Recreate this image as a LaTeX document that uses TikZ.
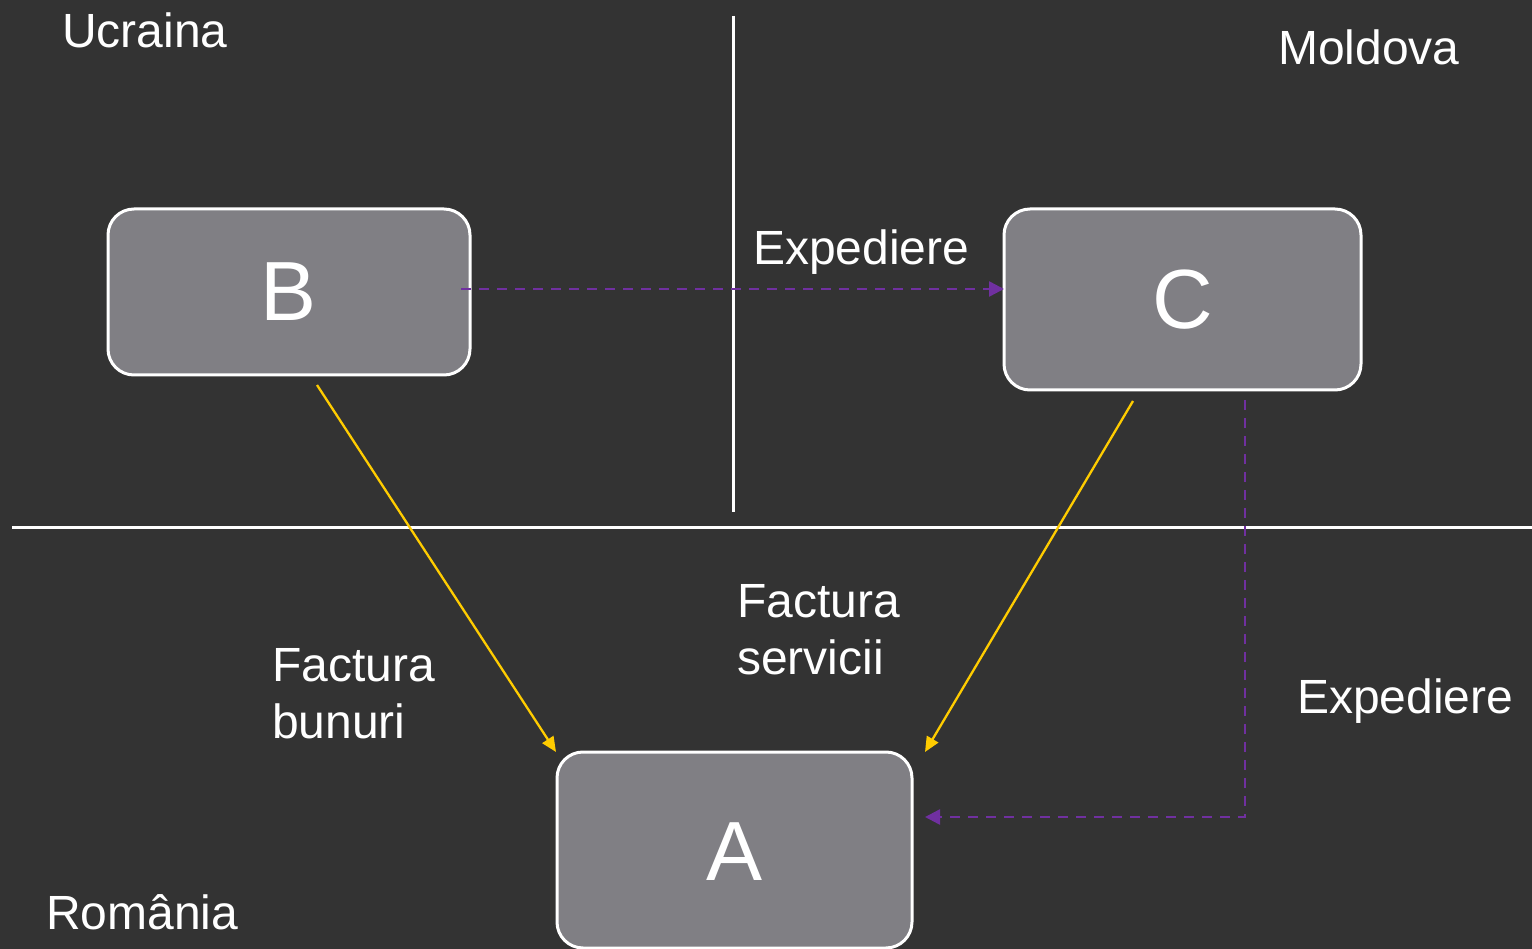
\documentclass[tikz,border=0pt]{standalone}
\usepackage{fontspec}
\setmainfont{Liberation Sans}
\usetikzlibrary{arrows.meta}
\definecolor{bg}{HTML}{333333}
\definecolor{boxfill}{HTML}{807F84}
\definecolor{purp}{HTML}{7030A0}
\definecolor{yel}{HTML}{FFCC00}
\begin{document}
\begin{tikzpicture}[x=1pt,y=-1pt,
  box/.style={draw=white,line width=3pt,fill=boxfill,rounded corners=26pt,inner sep=0pt},
  lbl/.style={text=white,font=\fontsize{48}{57}\selectfont,anchor=base west,inner sep=0pt,align=left},
  big/.style={text=white,font=\fontsize{84}{90}\selectfont,inner sep=0pt},
  border/.style={draw=white,line width=3pt},
  ship/.style={draw=purp,line width=2.5pt,dash pattern=on 10pt off 8pt,-{Triangle[length=15pt,width=15pt]}},
  inv/.style={draw=yel,line width=2.3pt,-{Triangle[length=15pt,width=13pt]}}]
\fill[bg] (0,0) rectangle (1532,949);
\useasboundingbox (0,0) rectangle (1532,949);
% borders
\coordinate (vt) at (733,16);
\coordinate (vb) at (733,512);
\coordinate (hl) at (12,527);
\coordinate (hr) at (1532,527);
\draw[border] (vt) -- (vb);
\draw[border] (hl) -- (hr);
% boxes
\draw[box] (108,209) rectangle (470,375);
\draw[box] (1004,209) rectangle (1361,390);
\draw[box] (557,752) rectangle (912,948);
\node[big] (B) at (289,292) {B};
\node[big] (C) at (1183,300) {C};
\node[big] (A) at (735,852) {A};
% connectors
\coordinate (bs) at (461,289);
\coordinate (ce) at (1004,289);
\draw[ship] (bs) -- (ce);
\coordinate (cs) at (1245,400);
\coordinate (ccorner) at (1245,817);
\coordinate (ae) at (925,817);
\draw[ship] (cs) -- (ccorner) -- (ae);
\coordinate (bb) at (317,385);
\coordinate (an) at (556,752);
\draw[inv] (bb) -- (an);
\coordinate (cb) at (1133,401);
\coordinate (ane) at (925,752);
\draw[inv] (cb) -- (ane);
% labels
\node[lbl] (ucr) at (62,48) {Ucraina};
\node[lbl] (mol) at (1278,65) {Moldova};
\node[lbl] (exp1) at (753,265) {Expediere};
\node[lbl] (fb) at (272,738) {Factura\\bunuri};
\node[lbl] (fs) at (737,674) {Factura\\servicii};
\node[lbl] (exp2) at (1297,713) {Expediere};
\node[lbl] (rom) at (46,929) {România};
\end{tikzpicture}
\end{document}
